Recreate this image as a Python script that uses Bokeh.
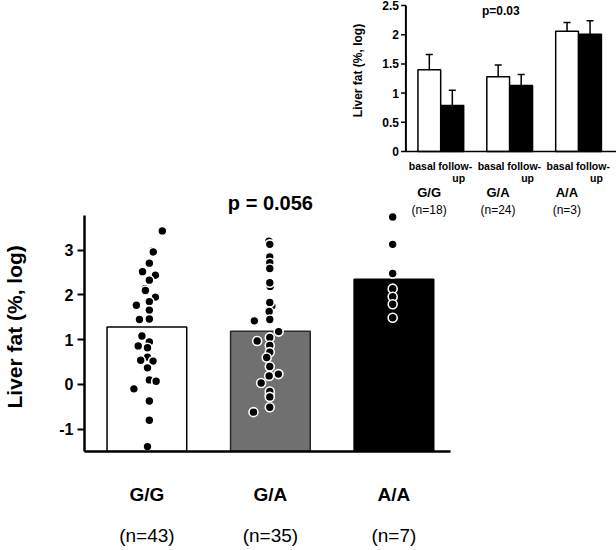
import math
from bokeh.plotting import figure
from bokeh.models import (LinearAxis, FixedTicker, Range1d, ColumnDataSource, Label,
                          Whisker, TeeHead, Title)
from bokeh.core.properties import value
from bokeh.embed import file_html
from bokeh.resources import INLINE

FONT = "Liberation Sans"

# ---------------- main chart data ----------------
groups = ["G/G", "G/A", "A/A"]
group_n = ["(n=43)", "(n=35)", "(n=7)"]
group_mean = [1.28, 1.19, 2.35]
bar_fill = ["white", "#707070", "black"]
bar_line = ["black", "#2a2a2a", "black"]
y_ticks = [-1, 0, 1, 2, 3]
main_p = "p = 0.056"
y_label = "Liver fat (%, log)"

gg_vals = [2.99, 2.14, 1.49, 0.55,
           3.43, 2.96, 2.71, 2.52, 2.44, 2.33, 2.10, 1.95, 1.85, 1.77, 1.66,
           1.45, 1.46, 1.08, 0.95, 0.86, 0.82, 0.61, 0.54, 0.52, 0.37, 0.10,
           0.07, -0.10, -0.37, -0.80, -1.39]
gg_jit = [0.048, -0.016, 0.024, 0.052,
          0.125, 0.052, 0.02, -0.035, 0.07, 0.02, -0.012, 0.07, 0.02, -0.085, 0.02,
          -0.06, 0.02, -0.04, 0.02, -0.07, 0.005, 0.005, -0.05, 0.05, 0.005, 0.02,
          0.075, -0.105, 0.02, 0.02, 0.005]

ga_vals = [3.20, 2.75, 2.19, 1.75, -0.24,
           3.13, 2.85, 2.72, 2.59, 2.27, 1.83, 1.63, 1.45, 1.42, 1.18, 1.05,
           0.97, 0.87, 0.72, 0.60, 0.40, 0.23, 0.19, 0.03, -0.16, -0.28,
           -0.51, -0.62]
ga_jit = [-0.012, -0.005, -0.002, 0.012, -0.005,
          -0.005, -0.005, -0.005, -0.005, -0.005, -0.005, -0.01, -0.005, -0.13,
          0.067, -0.005, -0.107, -0.005, -0.005, -0.03, -0.005, 0.065, -0.01,
          -0.075, -0.005, -0.005, -0.005, -0.137]

aa_vals = [3.74, 3.13, 2.48, 2.14, 1.96, 1.79, 1.49]
aa_jit = [-0.01, -0.01, -0.01, -0.01, -0.01, -0.01, -0.01]

# ---------------- inset data ----------------
inset_groups = ["G/G", "G/A", "A/A"]
inset_n = ["(n=18)", "(n=24)", "(n=3)"]
inset_basal = [1.40, 1.28, 2.06]
inset_basal_err = [0.26, 0.20, 0.15]
inset_follow = [0.79, 1.13, 2.01]
inset_follow_err = [0.26, 0.19, 0.23]
inset_ticks = [0, 0.5, 1, 1.5, 2, 2.5]
inset_tick_labels = ["0", "0.5", "1", "1.5", "2", "2.5"]
inset_p = "p=0.03"
inset_sub = ["basal", "follow-", "up"]

# ---------------- figure ----------------
p = figure(width=616, height=550, x_range=Range1d(0.495, 4.802), y_range=Range1d(-1.5, 8.58),
           x_axis_type=None, y_axis_type=None, toolbar_location=None, output_backend="svg",
           min_border_left=83, min_border_right=0, min_border_top=0, min_border_bottom=99)
p.outline_line_color = None
p.background_fill_color = "white"
p.border_fill_color = "white"
p.extra_x_ranges = {"ix": Range1d(-4.174, 3.551)}
p.extra_y_ranges = {"iy": Range1d(-5.137, 2.586)}

# main axes (the blank 1px axis label only reserves the gap before the title)
yax = LinearAxis(bounds=(-1.5, 3.77), ticker=FixedTicker(ticks=y_ticks),
                 major_label_overrides={t: str(t) for t in y_ticks},
                 axis_line_width=2.5, axis_line_color="black",
                 major_tick_out=7, major_tick_in=0, major_tick_line_width=2,
                 minor_tick_out=0, minor_tick_in=0,
                 major_label_text_font=FONT, major_label_text_font_style="bold",
                 major_label_text_font_size="16px", major_label_standoff=4,
                 major_label_text_color="black",
                 axis_label=" ", axis_label_text_font_size="1px", axis_label_standoff=27)
p.add_layout(yax, "left")
p.add_layout(Title(text=y_label, align="left", offset=43, standoff=0,
                   text_font=FONT, text_font_style="bold", text_font_size="21px",
                   text_color="black"), "left")

xpos = [i + 1 for i in range(len(groups))]
xax1 = LinearAxis(bounds=(0.495, 3.46), ticker=FixedTicker(ticks=xpos),
                  major_label_overrides={x: g for x, g in zip(xpos, groups)},
                  axis_line_width=2.5, axis_line_color="black",
                  major_tick_out=0, major_tick_in=0, minor_tick_out=0, minor_tick_in=0,
                  major_label_text_font=FONT, major_label_text_font_style="bold",
                  major_label_text_font_size="19px", major_label_standoff=32,
                  major_label_text_color="black")
p.add_layout(xax1, "below")
xax2 = LinearAxis(ticker=FixedTicker(ticks=xpos),
                  major_label_overrides={x: n for x, n in zip(xpos, group_n)},
                  axis_line_color=None,
                  major_tick_out=0, major_tick_in=0, minor_tick_out=0, minor_tick_in=0,
                  major_label_text_font=FONT, major_label_text_font_style="normal",
                  major_label_text_font_size="19px", major_label_standoff=17,
                  major_label_text_color="black")
p.add_layout(xax2, "below")

# main bars
p.vbar(x=xpos, top=group_mean, bottom=-1.5, width=0.645,
       fill_color=bar_fill, line_color=bar_line, line_width=1.5)

# dots
dx, dy = [], []
for gi, (vals, jit) in enumerate([(gg_vals, gg_jit), (ga_vals, ga_jit), (aa_vals, aa_jit)]):
    for v, j in zip(vals, jit):
        dx.append(xpos[gi] + j)
        dy.append(v)
p.scatter(x=dx, y=dy, size=9, fill_color="black", line_color="white", line_width=1.6)

p.add_layout(Label(x=2, y=4.06, text=main_p, text_align="center", text_baseline="middle",
                   text_font=FONT, text_font_style="bold", text_font_size="20px",
                   text_color="black"))

# ---------------- inset ----------------
IX = dict(x_range_name="ix", y_range_name="iy")
ipos = [i + 1 for i in range(len(inset_groups))]
off = 0.167
bw = 0.33
axis_x = 0.493

p.vbar(x=[g - off for g in ipos], top=inset_basal, bottom=0, width=bw,
       fill_color="white", line_color="black", line_width=1.5, **IX)
p.vbar(x=[g + off for g in ipos], top=inset_follow, bottom=0, width=bw,
       fill_color="black", line_color="black", line_width=1.5, **IX)

err_src = ColumnDataSource(dict(
    base=[g - off for g in ipos] + [g + off for g in ipos],
    lower=inset_basal + inset_follow,
    upper=[v + e for v, e in zip(inset_basal, inset_basal_err)] +
          [v + e for v, e in zip(inset_follow, inset_follow_err)]))
p.add_layout(Whisker(source=err_src, base="base", lower="lower", upper="upper",
                     dimension="height", line_width=1.5, line_color="black",
                     lower_head=None,
                     upper_head=TeeHead(size=7, line_width=1.5, line_color="black"),
                     **IX))

# inset axes
p.segment(x0=[axis_x], y0=[0], x1=[axis_x], y1=[inset_ticks[-1]],
          line_color="black", line_width=2, **IX)
p.segment(x0=[axis_x], y0=[0], x1=[3.6], y1=[0], line_color="black", line_width=1.5, **IX)
p.segment(x0=[axis_x - 0.07] * len(inset_ticks), y0=inset_ticks,
          x1=[axis_x] * len(inset_ticks), y1=inset_ticks,
          line_color="black", line_width=1.5, **IX)
p.text(x=[axis_x - 0.1] * len(inset_ticks), y=inset_ticks, text=inset_tick_labels,
       text_align="right", text_baseline="middle", text_font=value(FONT),
       text_font_style="bold", text_font_size=value("12px"), text_color="black", **IX)

p.text(x=[-0.203], y=[1.387], text=[y_label], angle=math.pi / 2,
       text_align="center", text_baseline="middle", text_font=value(FONT),
       text_font_style="bold", text_font_size=value("12px"), text_color="black", **IX)
p.text(x=[1.87], y=[2.414], text=[inset_p], text_align="center", text_baseline="middle",
       text_font=value(FONT), text_font_style="bold", text_font_size=value("12px"),
       text_color="black", **IX)

# inset category labels
p.text(x=[g - 0.27 for g in ipos], y=[-0.24] * 3, text=[inset_sub[0]] * 3,
       text_align="center", text_baseline="middle", text_font=value(FONT),
       text_font_style="bold", text_font_size=value("10.5px"), text_color="black", **IX)
p.text(x=[g + 0.21 for g in ipos], y=[-0.24] * 3, text=[inset_sub[1]] * 3,
       text_align="center", text_baseline="middle", text_font=value(FONT),
       text_font_style="bold", text_font_size=value("10.5px"), text_color="black", **IX)
p.text(x=[g + 0.26 for g in ipos], y=[-0.462] * 3, text=[inset_sub[2]] * 3,
       text_align="center", text_baseline="middle", text_font=value(FONT),
       text_font_style="bold", text_font_size=value("10.5px"), text_color="black", **IX)
p.text(x=[g - 0.17 for g in ipos], y=[-0.702] * 3, text=inset_groups,
       text_align="center", text_baseline="middle", text_font=value(FONT),
       text_font_style="bold", text_font_size=value("13px"), text_color="black", **IX)
p.text(x=[g - 0.17 for g in ipos], y=[-1.01] * 3, text=inset_n,
       text_align="center", text_baseline="middle", text_font=value(FONT),
       text_font_style="normal", text_font_size=value("12px"), text_color="black", **IX)

open("out.html", "w").write(file_html(p, INLINE))
